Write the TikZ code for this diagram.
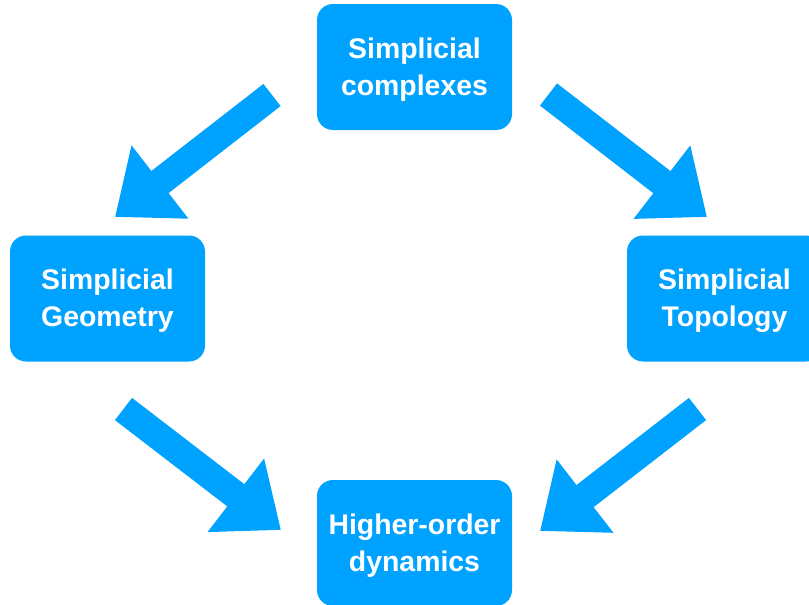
\documentclass[tikz,border=0pt]{standalone}
\usepackage{fontspec}
\setmainfont{Liberation Sans}
\usetikzlibrary{arrows.meta}
\definecolor{skyblue}{RGB}{0,162,255}

\begin{document}
\begin{tikzpicture}[x=1pt, y=-1pt,
  box/.style={shape=rectangle, fill=skyblue, rounded corners=16pt, minimum width=195pt, minimum height=126pt, inner sep=0pt, text=white, align=center, text height=57pt, text depth=1pt, font=\fontsize{28.4}{37}\selectfont\bfseries},
  bigarrow/.style={draw=skyblue, line width=28pt, -{Triangle[length=57pt, width=89pt]}}]
\useasboundingbox (0,0) rectangle (809,605);
\node[box] (complexes) at (414.5, 67) {Simplicial\\complexes};
\node[box] (geometry) at (107.5, 298.5) {Simplicial\\Geometry};
\node[box] (topology) at (724.5, 298.5) {Simplicial\\Topology};
\node[box] (dynamics) at (414.5, 543) {Higher-order\\dynamics};
\coordinate (t1) at (272, 95);    \coordinate (h1) at (115, 217);
\coordinate (t2) at (548.5, 94.5); \coordinate (h2) at (707, 217);
\coordinate (t3) at (123.5, 409); \coordinate (h3) at (281, 530);
\coordinate (t4) at (697.5, 409); \coordinate (h4) at (540, 531);
\draw[bigarrow] (t1) -- (h1);
\draw[bigarrow] (t2) -- (h2);
\draw[bigarrow] (t3) -- (h3);
\draw[bigarrow] (t4) -- (h4);
\end{tikzpicture}
\end{document}
